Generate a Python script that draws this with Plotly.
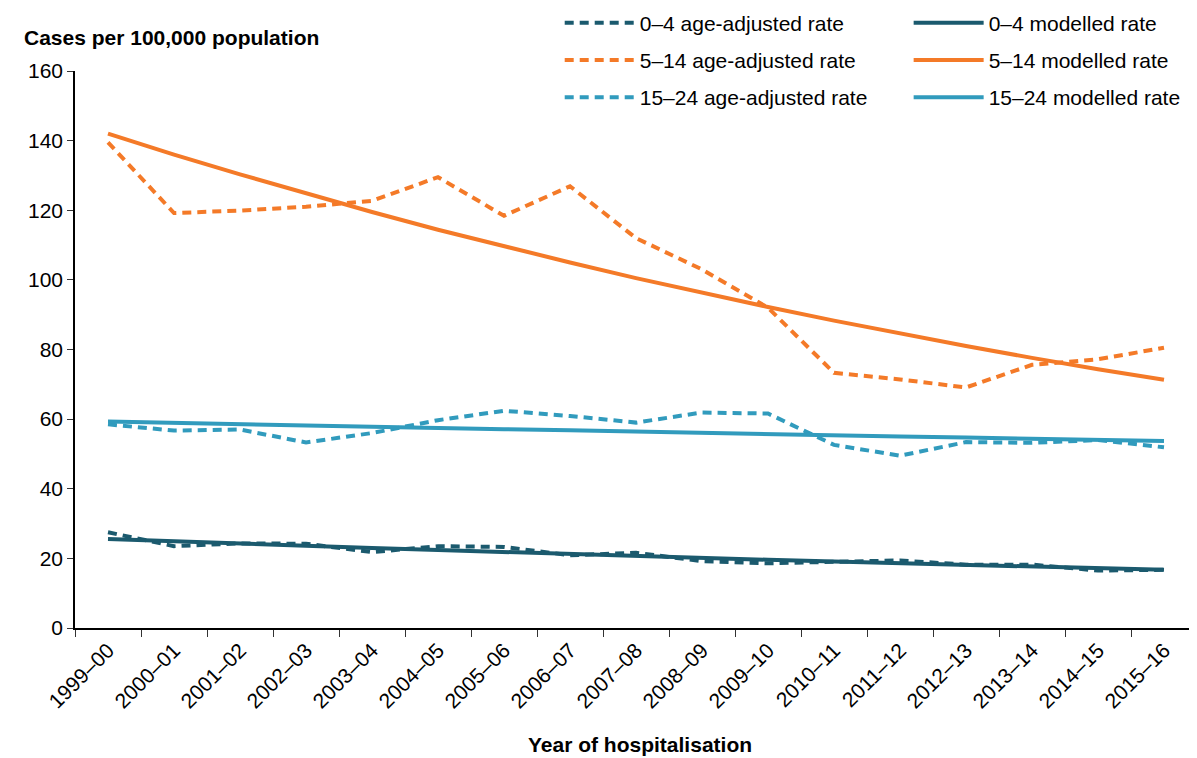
import plotly.graph_objects as go

years = ["1999–00", "2000–01", "2001–02", "2002–03", "2003–04", "2004–05",
         "2005–06", "2006–07", "2007–08", "2008–09", "2009–10", "2010–11",
         "2011–12", "2012–13", "2013–14", "2014–15", "2015–16"]

adj_0_4 = [27.5, 23.5, 24.3, 24.2, 21.8, 23.5, 23.3, 20.9, 21.6, 19.2,
           18.6, 19.0, 19.4, 18.2, 18.2, 16.5, 16.7]
mod_0_4 = [25.6, 24.9, 24.3, 23.6, 23.0, 22.4, 21.8, 21.2, 20.7, 20.1,
           19.6, 19.1, 18.6, 18.1, 17.6, 17.2, 16.7]

adj_5_14 = [139.5, 119.2, 119.9, 121.0, 122.7, 129.5, 118.4, 126.9, 112.0,
            103.0, 92.0, 73.3, 71.4, 69.1, 75.6, 77.2, 80.5]
mod_5_14 = [142.0, 136.0, 130.3, 124.8, 119.5, 114.4, 109.6, 105.0, 100.5,
            96.3, 92.2, 88.3, 84.6, 81.0, 77.6, 74.3, 71.3]

adj_15_24 = [58.5, 56.7, 57.0, 53.3, 56.0, 59.7, 62.4, 60.9, 59.0, 61.9,
             61.6, 52.6, 49.5, 53.4, 53.2, 54.0, 51.9]
mod_15_24 = [59.3, 58.9, 58.6, 58.2, 57.8, 57.5, 57.1, 56.8, 56.4, 56.1,
             55.7, 55.4, 55.0, 54.7, 54.4, 54.0, 53.7]

DARK = "#1B5A6E"
ORANGE = "#F47A28"
LIGHT = "#319BBD"
FONT = "Liberation Sans, Arial, sans-serif"
DASH = "9px,6px"

# adjusted rates go in the left legend column, modelled rates in the right one
series = [
    ("0–4 age-adjusted rate", adj_0_4, DARK, DASH, "legend"),
    ("5–14 age-adjusted rate", adj_5_14, ORANGE, DASH, "legend"),
    ("15–24 age-adjusted rate", adj_15_24, LIGHT, DASH, "legend"),
    ("0–4 modelled rate", mod_0_4, DARK, "solid", "legend2"),
    ("5–14 modelled rate", mod_5_14, ORANGE, "solid", "legend2"),
    ("15–24 modelled rate", mod_15_24, LIGHT, "solid", "legend2"),
]

fig = go.Figure()
for name, vals, color, dash, leg in series:
    fig.add_trace(go.Scatter(
        x=years, y=vals, name=name, mode="lines", legend=leg, legendgroup=name,
        line=dict(color=color, width=4, dash=dash),
    ))

legend_style = dict(
    orientation="v", yanchor="top", xanchor="left", y=1.123,
    itemwidth=70, font=dict(size=21), tracegroupgap=7,
    bgcolor="rgba(0,0,0,0)",
)

# the page body adds an 8px margin, so the figure is 8px smaller than the window
fig.update_layout(
    width=1189, height=750,
    margin=dict(l=67, r=0, t=63, b=130, autoexpand=False),
    paper_bgcolor="white", plot_bgcolor="white",
    font=dict(family=FONT, size=21, color="#000000"),
    showlegend=True,
    legend=dict(x=0.432, **legend_style),
    legend2=dict(x=0.743, **legend_style),
    xaxis=dict(
        type="category", tickson="boundaries", tickangle=-45,
        range=[-0.5, len(years) - 0.5],
        showline=True, linecolor="#000000", linewidth=1.5,
        ticks="outside", ticklen=7, tickcolor="#333333",
        showgrid=False, zeroline=False,
        tickfont=dict(size=21), automargin=False,
    ),
    yaxis=dict(
        range=[0, 160], dtick=20,
        showline=True, linecolor="#000000", linewidth=1.5,
        ticks="outside", ticklen=6, tickcolor="#333333",
        showgrid=False, zeroline=False,
        tickfont=dict(size=21), automargin=False,
    ),
    annotations=[
        dict(text="<b>Cases per 100,000 population</b>", xref="paper", yref="paper",
             x=-0.047, y=1.061, xanchor="left", yanchor="middle", showarrow=False,
             font=dict(size=21)),
        dict(text="<b>Year of hospitalisation</b>", xref="paper", yref="paper",
             x=0.504, y=-0.21, xanchor="center", yanchor="middle", showarrow=False,
             font=dict(size=21)),
    ],
)

fig.write_html("out.html")
